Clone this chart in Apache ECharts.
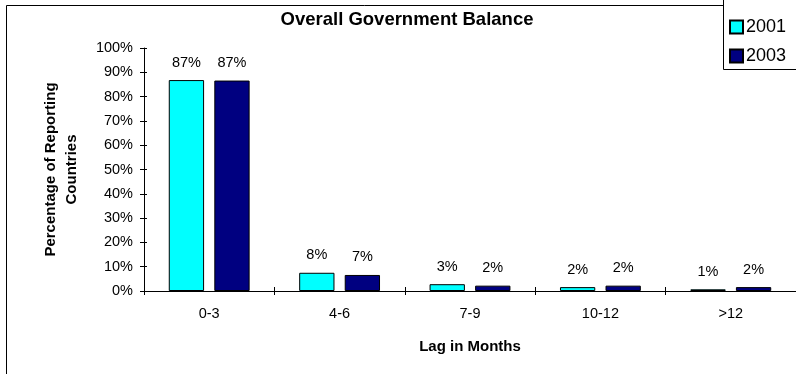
<!DOCTYPE html>
<html><head><meta charset="utf-8">
<script src="https://cdn.jsdelivr.net/npm/echarts@6/dist/echarts.min.js"></script>
<style>html,body{margin:0;padding:0;background:#fff}#c{width:796px;height:374px}</style>
</head><body><div id="c"></div>
<script>
const categories = ['0-3', '4-6', '7-9', '10-12', '>12'];
const values2001 = [86.8, 7.5, 2.8, 1.6, 0.7];
const values2003 = [86.6, 6.6, 2.2, 2.2, 1.6];
const seriesNames = ['2001', '2003'];
const yTicks = [0, 10, 20, 30, 40, 50, 60, 70, 80, 90, 100];

const FONT = '"Liberation Sans", Arial, sans-serif';
const chart = echarts.init(document.getElementById('c'), null, {renderer: 'canvas'});
const labelCfg = {
  show: true, position: 'top', distance: 10, color: '#000', fontSize: 14.5, fontFamily: FONT,
  formatter: p => Math.round(p.value) + '%'
};
chart.setOption({
  animation: false,
  backgroundColor: '#fff',
  textStyle: {fontFamily: FONT},
  title: {
    text: 'Overall Government Balance', left: 402, top: 5, textAlign: 'center',
    textStyle: {fontSize: 18.5, fontWeight: 'bold', color: '#000', fontFamily: FONT}
  },
  graphic: [
    {type: 'line', shape: {x1: 6.5, y1: 5.5, x2: 6.5, y2: 380}, style: {stroke: '#000', lineWidth: 1}, z: 100},
    {type: 'line', shape: {x1: 6.5, y1: 5.5, x2: 723, y2: 5.5}, style: {stroke: '#000', lineWidth: 1}, z: 100},
    {type: 'rect', shape: {x: 723.5, y: -2, width: 80, height: 71.5}, style: {fill: '#fff', stroke: '#000', lineWidth: 1}, z: 50}
  ],
  legend: {
    orient: 'vertical', left: 724, top: 13, itemWidth: 13, itemHeight: 13, itemGap: 11,
    icon: 'rect', z: 60,
    textStyle: {fontSize: 18, color: '#000', fontFamily: FONT, padding: [0, 0, 0, -2]},
    data: seriesNames
  },
  grid: {left: 144, top: 48, bottom: 83, right: -3, containLabel: false},
  xAxis: [{
    type: 'category', data: categories,
    axisLine: {lineStyle: {color: '#000', width: 1}},
    axisTick: {show: true, length: 4, lineStyle: {color: '#000'}},
    axisLabel: {color: '#000', fontSize: 14.5, margin: 15, fontFamily: FONT},
    name: 'Lag in Months', nameLocation: 'middle', nameGap: 48,
    nameTextStyle: {fontSize: 15, fontWeight: 'bold', color: '#000', fontFamily: FONT}
  }, {
    type: 'category', data: categories, position: 'bottom',
    axisLine: {show: false},
    axisTick: {show: true, inside: true, length: 4, lineStyle: {color: '#000'}},
    axisLabel: {show: false}
  }],
  yAxis: [{
    type: 'value', min: 0, max: 100, interval: 10,
    axisLine: {show: true, lineStyle: {color: '#000', width: 1}},
    axisTick: {show: true, length: 4, lineStyle: {color: '#000'}},
    splitLine: {show: false},
    axisLabel: {color: '#000', fontSize: 14.5, margin: 11, fontFamily: FONT,
      formatter: v => yTicks.includes(v) ? v + '%' : ''},
    name: 'Percentage of Reporting\nCountries', nameLocation: 'middle', nameGap: 62,
    nameTextStyle: {fontSize: 15, fontWeight: 'bold', color: '#000', fontFamily: FONT, lineHeight: 21}
  }, {
    type: 'value', min: 0, max: 100, interval: 10, position: 'left',
    axisLine: {show: false},
    axisTick: {show: true, inside: true, length: 3, lineStyle: {color: '#000'}},
    splitLine: {show: false},
    axisLabel: {show: false}
  }],
  series: [
    {name: seriesNames[0], type: 'bar', data: values2001, barGap: '29%', barCategoryGap: '38%',
      itemStyle: {color: '#00FFFF', borderColor: '#000', borderWidth: 1}, label: labelCfg},
    {name: seriesNames[1], type: 'bar', data: values2003,
      itemStyle: {color: '#000080', borderColor: '#000', borderWidth: 1}, label: labelCfg}
  ]
});
</script></body></html>
